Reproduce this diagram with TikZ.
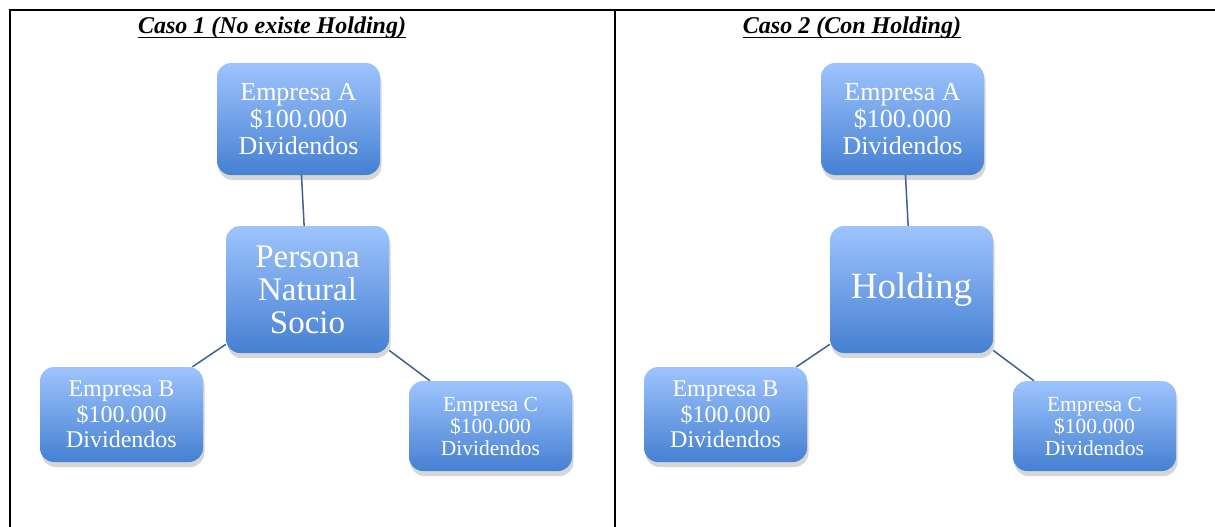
\documentclass[tikz,border=0pt]{standalone}
\usepackage{fontspec}
\setmainfont{Liberation Serif}
\usetikzlibrary{shadows}
\definecolor{boxtop}{HTML}{9EC4FD}
\definecolor{boxbot}{HTML}{4580D2}
\definecolor{linkc}{HTML}{3D6190}
\tikzset{
  box/.style={draw=none, rounded corners=14pt, top color=boxtop, bottom color=boxbot,
    minimum width=163pt, inner sep=0pt, align=center, text=white,
    drop shadow={shadow xshift=1.5pt, shadow yshift=-5pt, opacity=0.16, fill=black}},
  link/.style={draw=linkc, line width=1.5pt},
  frame/.style={line width=2pt, black},
  title/.style={font=\fontsize{24}{26}\selectfont\bfseries\itshape, inner sep=0pt, anchor=base},
  uline/.style={line width=1.8pt, black}
}
\begin{document}
\begin{tikzpicture}[x=1pt,y=-1pt]
\useasboundingbox (0,0) rectangle (1215,527);
% frame
\draw[frame] (10,527) -- (10,10) -- (1215,10);
\draw[frame] (614.5,10) -- (614.5,527);
% titles
\node[title] (t1) at (272,33.5) {Caso 1 (No existe Holding)};
\node[title] (t2) at (852,33.5) {Caso 2 (Con Holding)};
\draw[uline] ([yshift=-4pt]t1.base west) -- ([yshift=-4pt]t1.base east);
\draw[uline] ([yshift=-4pt]t2.base west) -- ([yshift=-4pt]t2.base east);
% case 1
\node[box, minimum height=112pt, font=\fontsize{26}{27}\selectfont] (a1) at (298.5,119) {Empresa A\\\$100.000\\Dividendos};
\node[box, minimum height=127pt, font=\fontsize{33}{33}\selectfont] (p1) at (307.5,289.5) {Persona\\Natural\\Socio};
\node[box, minimum height=95pt, font=\fontsize{24}{25.5}\selectfont] (b1) at (121.5,414.5) {Empresa B\\\$100.000\\Dividendos};
\node[box, minimum height=90pt, font=\fontsize{21.5}{22}\selectfont] (c1) at (490.5,426) {Empresa C\\\$100.000\\Dividendos};
\draw[link] (a1) -- (p1);
\draw[link] (p1) -- (b1);
\draw[link] (p1) -- (c1);
% case 2
\node[box, minimum height=112pt, font=\fontsize{26}{27}\selectfont] (a2) at (902.5,119) {Empresa A\\\$100.000\\Dividendos};
\node[box, minimum height=127pt, font=\fontsize{37}{37}\selectfont] (h2) at (911.5,289.5) {\raisebox{-3pt}{Holding}};
\node[box, minimum height=95pt, font=\fontsize{24}{25.5}\selectfont] (b2) at (725.5,414.5) {Empresa B\\\$100.000\\Dividendos};
\node[box, minimum height=90pt, font=\fontsize{21.5}{22}\selectfont] (c2) at (1094.5,426) {Empresa C\\\$100.000\\Dividendos};
\draw[link] (a2) -- (h2);
\draw[link] (h2) -- (b2);
\draw[link] (h2) -- (c2);
\end{tikzpicture}
\end{document}
